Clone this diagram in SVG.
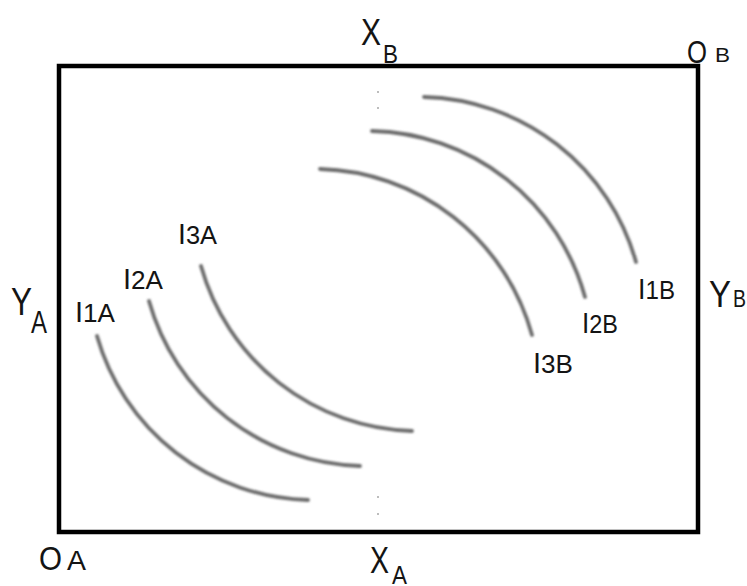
<svg xmlns="http://www.w3.org/2000/svg" width="747" height="586" viewBox="0 0 747 586">
<defs>
<filter id="soft" x="-5%" y="-5%" width="110%" height="110%">
<feGaussianBlur stdDeviation="0.9"/>
</filter>
</defs>
<style>
.frame{fill:none;stroke:#000;stroke-width:4.5}
.arc{fill:none;stroke:#6c6c6c;stroke-width:3.8;stroke-linecap:round;filter:url(#soft)}
.lbl{font-family:"Liberation Sans","DejaVu Sans",sans-serif;fill:#141414}
.big{font-size:37px}
.mid{font-size:26px}
.tall{font-size:29px}
.sub{font-size:25px}
.dot{fill:#bdbdbd}
</style>
<rect width="747" height="586" fill="#fff"/>
<g id="frame">
<rect class="frame" x="59" y="66" width="639" height="466"/>
</g>
<g id="guides">
<rect class="dot" x="377" y="91" width="2" height="2"/>
<rect class="dot" x="377" y="107" width="2" height="2"/>
<rect class="dot" x="377" y="496" width="2" height="2"/>
<rect class="dot" x="377" y="513" width="2" height="2"/>
</g>
<g id="connectors">
<path id="arc-1A" class="arc" d="M97,336 A226,226 0 0,0 308,500"/>
<path id="arc-2A" class="arc" d="M149,301 A226,226 0 0,0 360,466"/>
<path id="arc-3A" class="arc" d="M201,266 A226,226 0 0,0 412,431"/>
<path id="arc-1B" class="arc" d="M424,97 A226,226 0 0,1 636,262"/>
<path id="arc-2B" class="arc" d="M372,131 A226,226 0 0,1 585,297"/>
<path id="arc-3B" class="arc" d="M320,169 A226,226 0 0,1 532,335"/>
</g>
<g id="label-XB">
<text class="lbl big" x="361" y="45" textLength="20" lengthAdjust="spacingAndGlyphs">X</text>
<text class="lbl sub" x="383" y="63" textLength="15" lengthAdjust="spacingAndGlyphs">B</text>
</g>
<g id="label-OB">
<text class="lbl" style="font-size:31px" x="687" y="63" textLength="20" lengthAdjust="spacingAndGlyphs">O</text>
<text class="lbl" style="font-size:21px" x="715" y="62" textLength="15" lengthAdjust="spacingAndGlyphs">B</text>
</g>
<g id="label-YA">
<text class="lbl" style="font-size:38px" x="11" y="315" textLength="21" lengthAdjust="spacingAndGlyphs">Y</text>
<text class="lbl" style="font-size:32px" x="31" y="333" textLength="16" lengthAdjust="spacingAndGlyphs">A</text>
</g>
<g id="label-YB">
<text class="lbl big" x="709" y="307" textLength="22" lengthAdjust="spacingAndGlyphs">Y</text>
<text class="lbl" style="font-size:23px" x="733" y="307" textLength="13" lengthAdjust="spacingAndGlyphs">B</text>
</g>
<g id="label-OA">
<text class="lbl" style="font-size:33px" x="39" y="570" textLength="23" lengthAdjust="spacingAndGlyphs">O</text>
<text class="lbl" style="font-size:27px" x="67" y="570" textLength="19" lengthAdjust="spacingAndGlyphs">A</text>
</g>
<g id="label-XA">
<text class="lbl big" x="370" y="573" textLength="19" lengthAdjust="spacingAndGlyphs">X</text>
<text class="lbl sub" x="392" y="584" textLength="15" lengthAdjust="spacingAndGlyphs">A</text>
</g>
<g id="label-I1A"><text class="lbl mid" x="75" y="322" textLength="40" lengthAdjust="spacingAndGlyphs"><tspan class="tall">I</tspan>1A</text></g>
<g id="label-I2A"><text class="lbl mid" x="123" y="289" textLength="40" lengthAdjust="spacingAndGlyphs"><tspan class="tall">I</tspan>2A</text></g>
<g id="label-I3A"><text class="lbl mid" x="178" y="244" textLength="39" lengthAdjust="spacingAndGlyphs"><tspan class="tall">I</tspan>3A</text></g>
<g id="label-I1B"><text class="lbl mid" x="638" y="299" textLength="37" lengthAdjust="spacingAndGlyphs"><tspan class="tall">I</tspan>1B</text></g>
<g id="label-I2B"><text class="lbl mid" x="582" y="333" textLength="36" lengthAdjust="spacingAndGlyphs"><tspan class="tall">I</tspan>2B</text></g>
<g id="label-I3B"><text class="lbl mid" x="533" y="373" textLength="40" lengthAdjust="spacingAndGlyphs"><tspan class="tall">I</tspan>3B</text></g>
</svg>
